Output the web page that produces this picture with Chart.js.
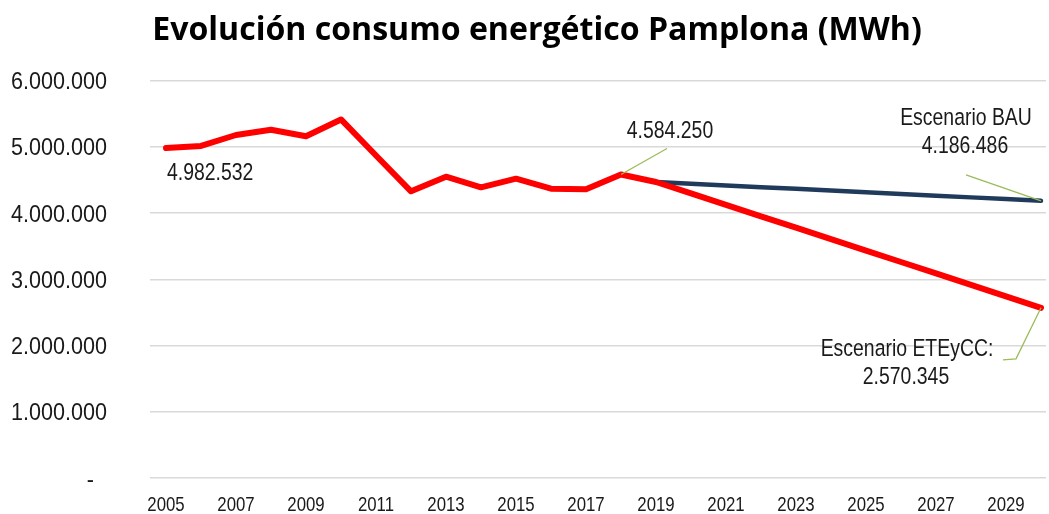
<!DOCTYPE html>
<html>
<head>
<meta charset="utf-8">
<script src="https://cdn.jsdelivr.net/npm/chart.js@4.4.1/dist/chart.umd.min.js"></script>
<style>
  html, body { margin: 0; padding: 0; background: #ffffff; }
  #wrap { width: 1049px; height: 514px; position: relative; }
</style>
</head>
<body>
<div id="wrap"><canvas id="c" width="1049" height="514"></canvas></div>
<script>
// ---- Data ----
const title = 'Evolución consumo energético Pamplona (MWh)';
const years = [2005, 2006, 2007, 2008, 2009, 2010, 2011, 2012, 2013, 2014, 2015, 2016, 2017,
               2018, 2019, 2020, 2021, 2022, 2023, 2024, 2025, 2026, 2027, 2028, 2029, 2030];
// Red series: historical + ETEyCC scenario
const eteyccValues = [4982532, 5015000, 5180000, 5260000, 5160000, 5415000, 4870000, 4330000,
                      4550000, 4390000, 4520000, 4370000, 4360000, 4584250, 4470000, 4297000,
                      4125000, 3952000, 3780000, 3607000, 3434000, 3262000, 3089000, 2916000,
                      2743000, 2570345];
// Navy series: BAU scenario (from 2019)
const bauYears = [2019, 2020, 2021, 2022, 2023, 2024, 2025, 2026, 2027, 2028, 2029, 2030];
const bauValues = [4470000, 4444000, 4418000, 4392000, 4367000, 4341000, 4315000, 4289000,
                   4263000, 4238000, 4212000, 4186486];
const xTickYears = [2005, 2007, 2009, 2011, 2013, 2015, 2017, 2019, 2021, 2023, 2025, 2027, 2029];
const yTicks = [0, 1000000, 2000000, 3000000, 4000000, 5000000, 6000000];
// Annotations
const labelFirst = { year: 2005, value: 4982532, lines: ['4.982.532'] };
const label2018 = { year: 2018, value: 4584250, lines: ['4.584.250'] };
const labelBAU = { year: 2030, value: 4186486, lines: ['Escenario BAU', '4.186.486'] };
const labelETE = { year: 2030, value: 2570345, lines: ['Escenario ETEyCC:', '2.570.345'] };

function fmt(v) {
  if (v === 0) return '-';
  return String(Math.round(v)).replace(/\B(?=(\d{3})+(?!\d))/g, '.');
}

const SANS = '"Liberation Sans", Arial, sans-serif';
const TEXT_COLOR = '#1a1a1a';
const LEADER = '#9BBB59';

// draws horizontally condensed text (Arial-Narrow look)
function narrowText(ctx, text, x, y, size, sx, align) {
  ctx.save();
  ctx.translate(x, y);
  ctx.scale(sx, 1);
  ctx.font = size + 'px ' + SANS;
  ctx.textAlign = align;
  ctx.textBaseline = 'alphabetic';
  ctx.fillText(text, 0, 0);
  ctx.restore();
}

const annotationPlugin = {
  id: 'annots',
  afterDraw(chart) {
    const ctx = chart.ctx;
    const xs = chart.scales.x, ys = chart.scales.y;
    const P = (a) => ({ x: xs.getPixelForValue(a.year), y: ys.getPixelForValue(a.value) });
    ctx.save();
    ctx.fillStyle = TEXT_COLOR;

    // axis tick labels (positions from the scales)
    yTicks.forEach(v => {
      const y = ys.getPixelForValue(v);
      if (v === 0) narrowText(ctx, fmt(v), 94, y + 8.5, 23.7, 0.91, 'right');
      else narrowText(ctx, fmt(v), 107, y + 8.5, 23.7, 0.91, 'right');
    });
    xTickYears.forEach(yr => {
      const x = xs.getPixelForValue(yr);
      narrowText(ctx, String(yr), x, chart.chartArea.bottom + 33, 21, 0.8, 'center');
    });

    // 2005 label
    let p = P(labelFirst);
    narrowText(ctx, labelFirst.lines[0], p.x + 1, p.y + 32, 23.7, 0.82, 'left');

    ctx.strokeStyle = LEADER;
    ctx.lineWidth = 1.3;

    // 2018
    p = P(label2018);
    ctx.beginPath(); ctx.moveTo(p.x, p.y); ctx.lineTo(p.x + 46, p.y - 26); ctx.stroke();
    narrowText(ctx, label2018.lines[0], p.x + 49, p.y - 36, 23.7, 0.82, 'center');

    // BAU
    p = P(labelBAU);
    ctx.beginPath(); ctx.moveTo(p.x, p.y); ctx.lineTo(p.x - 75, p.y - 26); ctx.stroke();
    narrowText(ctx, labelBAU.lines[0], p.x - 75, p.y - 76, 23.7, 0.82, 'center');
    narrowText(ctx, labelBAU.lines[1], p.x - 76, p.y - 48, 23.7, 0.82, 'center');

    // ETEyCC
    p = P(labelETE);
    ctx.beginPath(); ctx.moveTo(p.x, p.y); ctx.lineTo(p.x - 25, p.y + 51); ctx.lineTo(p.x - 38, p.y + 52); ctx.stroke();
    narrowText(ctx, labelETE.lines[0], p.x - 134, p.y + 48, 23.7, 0.82, 'center');
    narrowText(ctx, labelETE.lines[1], p.x - 135, p.y + 76, 23.7, 0.82, 'center');

    // Title
    ctx.fillStyle = '#000000';
    let size = 30;
    ctx.font = 'bold ' + size + 'px "Open Sans", "Noto Sans", sans-serif';
    const w = ctx.measureText(title).width;
    size = size * 770 / w;
    ctx.font = 'bold ' + size.toFixed(2) + 'px "Open Sans", "Noto Sans", sans-serif';
    ctx.textAlign = 'center';
    ctx.textBaseline = 'alphabetic';
    ctx.fillText(title, 537, 40);
    ctx.restore();
  }
};

const redData = years.map((y, i) => ({ x: y, y: eteyccValues[i] }));
const navyData = bauYears.map((y, i) => ({ x: y, y: bauValues[i] }));

new Chart(document.getElementById('c'), {
  type: 'line',
  data: {
    datasets: [
      {
        label: 'Escenario ETEyCC',
        data: redData,
        borderColor: '#FF0000',
        borderWidth: 6,
        borderCapStyle: 'round',
        borderJoinStyle: 'round',
        pointRadius: 0,
        tension: 0,
        fill: false
      },
      {
        label: 'Escenario BAU',
        data: navyData,
        borderColor: '#203A5C',
        borderWidth: 4.5,
        borderCapStyle: 'round',
        borderJoinStyle: 'round',
        pointRadius: 0,
        tension: 0,
        fill: false
      }
    ]
  },
  options: {
    responsive: false,
    animation: false,
    devicePixelRatio: 1,
    layout: { padding: { left: 150, right: 3, top: 80.7, bottom: 36 } },
    plugins: {
      legend: { display: false },
      title: { display: false },
      tooltip: { enabled: false }
    },
    scales: {
      x: {
        type: 'linear',
        min: 2005 - 16 / 35,
        max: 2030 + 5 / 35,
        grid: { display: false, drawTicks: false },
        border: { display: false },
        afterBuildTicks(scale) { scale.ticks = xTickYears.map(v => ({ value: v })); },
        ticks: { display: false }
      },
      y: {
        min: 0,
        max: 6000000,
        afterBuildTicks(scale) { scale.ticks = yTicks.map(v => ({ value: v })); },
        grid: { color: '#D9D9D9', lineWidth: 1.6, drawTicks: false },
        border: { display: false },
        ticks: { display: false }
      }
    }
  },
  plugins: [annotationPlugin]
});
</script>
</body>
</html>
